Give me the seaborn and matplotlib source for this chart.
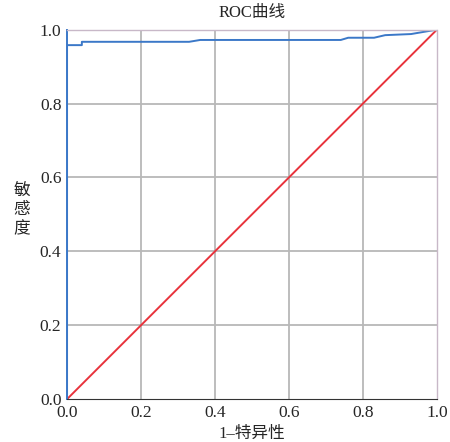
import numpy as np
import pandas as pd
import matplotlib
matplotlib.use("Agg")
import matplotlib.pyplot as plt
import seaborn as sns

# ROC curve points
fpr = [0.0, 0.0, 0.04, 0.04, 0.33, 0.36, 0.74, 0.76, 0.83, 0.86, 0.93, 1.0]
tpr = [0.0, 0.958, 0.958, 0.967, 0.967, 0.972, 0.972, 0.978, 0.978, 0.985, 0.988, 1.0]
ref_x = [0.0, 1.0]
ref_y = [0.0, 1.0]
ticks = [0.0, 0.2, 0.4, 0.6, 0.8, 1.0]

sns.set_style("white")
plt.rcParams['font.family'] = ['Liberation Serif', 'Noto Sans CJK SC', 'DejaVu Sans']
plt.rcParams['axes.unicode_minus'] = False

fig = plt.figure(figsize=(4.5, 4.42), dpi=100)
ax = fig.add_axes([0.149, 0.097, 0.822, 0.836])

# grid
for t in ticks[1:-1]:
    ax.axvline(t, color='#b8b8b8', lw=1.3, zorder=0)
    ax.axhline(t, color='#b8b8b8', lw=1.3, zorder=0)

roc = pd.DataFrame({'fpr': fpr, 'tpr': tpr})
diag = pd.DataFrame({'x': ref_x, 'y': ref_y})
sns.lineplot(data=diag, x='x', y='y', color='#e8333c', lw=1.4, ax=ax,
             sort=False, estimator=None)
sns.lineplot(data=roc, x='fpr', y='tpr', color='#3b78c8', lw=1.4, ax=ax,
             sort=False, estimator=None)

ax.set_xlim(0, 1)
ax.set_ylim(0, 1)
ax.set_xticks(ticks)
ax.set_yticks(ticks)
ax.set_xticklabels([f"{t:.1f}" for t in ticks], fontsize=12.5)
ax.set_yticklabels([f"{t:.1f}" for t in ticks], fontsize=12.5)
ax.tick_params(axis='x', length=0, pad=4)
ax.tick_params(axis='y', length=0, pad=4)

for side in ['top', 'right']:
    ax.spines[side].set_color('#c8b8c8')
    ax.spines[side].set_linestyle((0, (2, 1)))
    ax.spines[side].set_linewidth(1.0)
ax.spines['bottom'].set_color('#333333')
ax.spines['left'].set_color('#3b78c8')
ax.spines['left'].set_linewidth(1.4)

ax.set_title("ROC曲线", fontsize=12, pad=9)
ax.set_xlabel("1–特异性", fontsize=12, labelpad=4)
ax.set_ylabel("")
fig.text(22 / 450, 1 - 210 / 442, "敏\n感\n度", fontsize=12, ha='center', va='center',
         linespacing=1.25)

fig.savefig("out.png", dpi=100)
